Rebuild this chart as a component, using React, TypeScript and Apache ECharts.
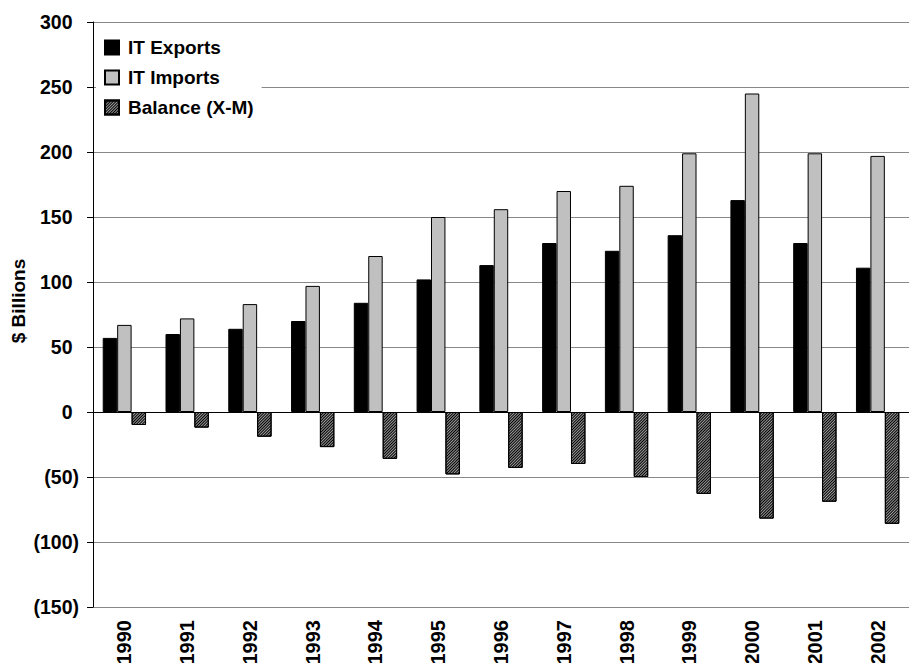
import React, { useEffect, useRef } from "react";
import * as echarts from "echarts";

const years = ["1990","1991","1992","1993","1994","1995","1996","1997","1998","1999","2000","2001","2002"];
const itExports = [57, 60, 64, 70, 84, 102, 113, 130, 124, 136, 163, 130, 111];
const itImports = [67, 72, 83, 97, 120, 150, 156, 170, 174, 199, 245, 199, 197];
const balance = [-10, -12, -19, -27, -36, -48, -43, -40, -50, -63, -82, -69, -86];

const FONT = "'Liberation Sans', Arial, sans-serif";

export default function App() {
  const ref = useRef<HTMLDivElement>(null);
  useEffect(() => {
    if (!ref.current) return;
    const chart = echarts.init(ref.current, null, { renderer: "svg" });
    const gridColors = ["#888", "#888", "#888", "#000", "#888", "#888", "#888", "#888", "#888", "#888"];
    chart.setOption({
      animation: false,
      backgroundColor: "#fff",
      textStyle: { fontFamily: FONT },
      grid: { left: 93, right: 2, top: 22, bottom: 56, containLabel: false, outerBoundsMode: "none" },
      legend: {
        orient: "vertical",
        left: 96,
        top: 30,
        padding: [8, 8, 8, 8],
        backgroundColor: "#fff",
        itemWidth: 14,
        itemHeight: 14,
        itemGap: 11,
        icon: "rect",
        textStyle: { fontFamily: FONT, fontWeight: "bold", fontSize: 19, color: "#000", padding: [0, 0, 0, 4] },
        data: ["IT Exports", "IT Imports", "Balance (X-M)"],
      },
      xAxis: {
        type: "category",
        data: years,
        axisLine: { show: false, onZero: false },
        axisTick: { show: false },
        splitLine: { show: false },
        axisLabel: {
          rotate: 90,
          margin: 13,
          fontFamily: FONT,
          fontWeight: "bold",
          fontSize: 20,
          color: "#000",
          interval: 0,
        },
      },
      yAxis: {
        type: "value",
        min: -150,
        max: 300,
        interval: 50,
        axisLine: { show: true, lineStyle: { color: "#000", width: 1 } },
        axisTick: { show: true, length: 6, lineStyle: { color: "#000" } },
        splitLine: { show: true, lineStyle: { color: gridColors, width: 1 } },
        axisLabel: {
          margin: 14,
          fontFamily: FONT,
          fontWeight: "bold",
          fontSize: 19.5,
          color: "#000",
          formatter: (v: number) => (v < 0 ? `(${-v})` : `${v}{h|)}`),
          rich: { h: { color: "transparent", fontFamily: FONT, fontWeight: "bold", fontSize: 19.5 } },
        },
      },
      graphic: [
        {
          type: "text",
          x: 18,
          y: 301,
          rotation: Math.PI / 2,
          style: {
            text: "$ Billions",
            font: `bold 19px ${FONT}`,
            fill: "#000",
            align: "center",
            verticalAlign: "middle",
          },
        },
      ],
      series: [
        {
          name: "IT Exports",
          type: "bar",
          data: itExports,
          barGap: "0%",
          barCategoryGap: "31%",
          itemStyle: { color: "#000", borderColor: "#000", borderWidth: 1 },
        },
        {
          name: "IT Imports",
          type: "bar",
          data: itImports,
          barGap: "0%",
          barCategoryGap: "31%",
          itemStyle: { color: "#c0c0c0", borderColor: "#000", borderWidth: 1 },
        },
        {
          name: "Balance (X-M)",
          type: "bar",
          data: balance,
          barGap: "0%",
          barCategoryGap: "31%",
          itemStyle: {
            color: "#9a9a9a",
            borderColor: "#000",
            borderWidth: 1,
            decal: {
              symbol: "rect",
              symbolSize: 1,
              dashArrayX: [1, 0],
              dashArrayY: [1, 1],
              rotation: -Math.PI / 4,
              color: "#000",
            },
          },
        },
      ],
    });
    return () => chart.dispose();
  }, []);
  return (
    <div
      ref={ref}
      style={{ position: "fixed", left: 0, top: 0, width: 911, height: 663 }}
    />
  );
}
